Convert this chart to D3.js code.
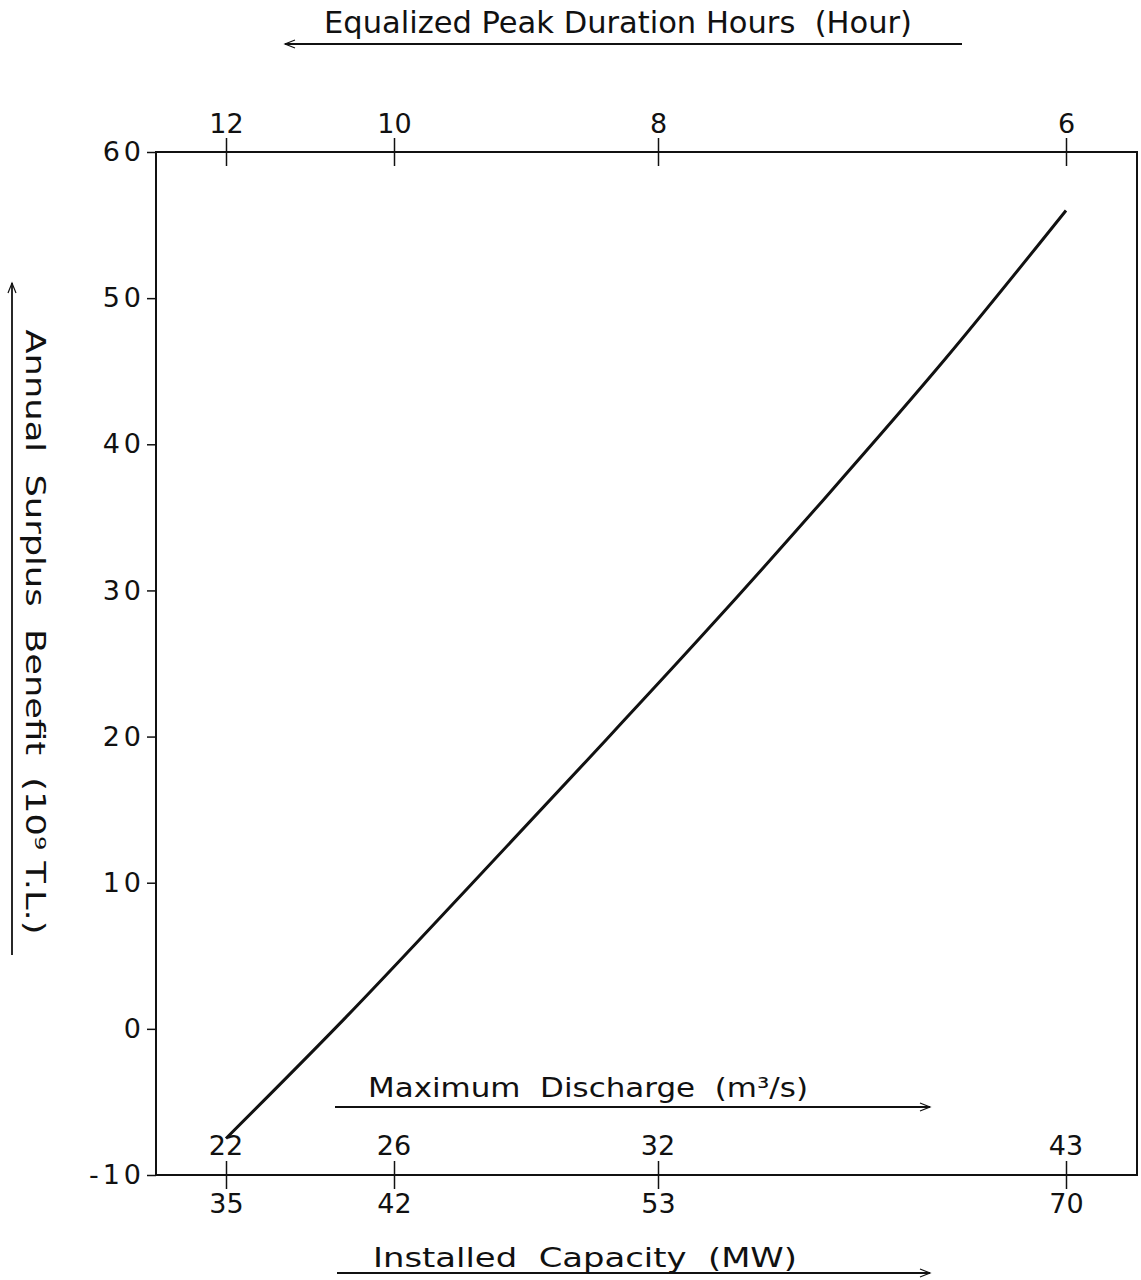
<!DOCTYPE html>
<html>
<head>
<meta charset="utf-8">
<script src="https://cdn.jsdelivr.net/npm/d3@7"></script>
<style>
  body { margin: 0; background: #fff; }
  svg { display: block; }
  text { font-family: "DejaVu Sans", sans-serif; fill: #111; }
</style>
</head>
<body>
<svg id="chart" width="1141" height="1280"></svg>
<script>
// curve: installed capacity (MW) vs annual surplus benefit (10^9 T.L.)
const capacityMW = [35, 40, 45, 50, 55, 60, 65, 70];
const benefit = [-7.5, 0.8, 9.5, 18.3, 27.2, 36.4, 45.9, 56.0];

// labelled positions shared by the three horizontal scales
const capacityTicks = [35, 42, 53, 70];
const hoursLabels = [12, 10, 8, 6];
const dischargeLabels = [22, 26, 32, 43];
const benefitTicks = [-10, 0, 10, 20, 30, 40, 50, 60];

const svg = d3.select('#chart');
const box = { left: 156, right: 1137, top: 152, bottom: 1175 };

const x = d3.scaleLinear().domain([35, 70]).range([226, 1066]);
const y = d3.scaleLinear().domain([-10, 60]).range([box.bottom, box.top]);

// frame
svg.append('rect')
  .attr('x', box.left)
  .attr('y', box.top)
  .attr('width', box.right - box.left)
  .attr('height', box.bottom - box.top)
  .attr('fill', 'none')
  .attr('stroke', '#111')
  .attr('stroke-width', 2);

// left axis
const yAxis = svg.append('g')
  .attr('transform', `translate(${box.left},0)`)
  .call(d3.axisLeft(y).tickValues(benefitTicks).tickSize(9).tickSizeOuter(0).tickPadding(2));
yAxis.select('.domain').remove();
yAxis.selectAll('line').attr('stroke', '#111').attr('stroke-width', 1.5);
yAxis.selectAll('text')
  .attr('font-size', 27)
  .attr('letter-spacing', 4)
  .attr('fill', '#111')
  .text((d) => (d < 0 ? '-' + Math.abs(d) : d));

// top axis: equalized peak duration hours
const topAxis = svg.append('g')
  .attr('transform', `translate(0,${box.top})`)
  .call(d3.axisTop(x).tickValues(capacityTicks).tickSizeOuter(0).tickSize(14).tickPadding(5)
    .tickFormat((d, i) => hoursLabels[i]));
topAxis.select('.domain').remove();
topAxis.selectAll('line').attr('y1', 14).attr('y2', -14).attr('stroke', '#111').attr('stroke-width', 1.5);
topAxis.selectAll('text').attr('font-size', 27).attr('fill', '#111');

// bottom axis: installed capacity
const bottomAxis = svg.append('g')
  .attr('transform', `translate(0,${box.bottom})`)
  .call(d3.axisBottom(x).tickValues(capacityTicks).tickSizeOuter(0).tickSize(14).tickPadding(5));
bottomAxis.select('.domain').remove();
bottomAxis.selectAll('line').attr('y1', -14).attr('y2', 14).attr('stroke', '#111').attr('stroke-width', 1.5);
bottomAxis.selectAll('text').attr('font-size', 27).attr('fill', '#111');

// discharge labels sit above the capacity ticks
svg.append('g')
  .selectAll('text')
  .data(capacityTicks)
  .join('text')
  .attr('x', (d) => x(d))
  .attr('y', box.bottom - 20)
  .attr('text-anchor', 'middle')
  .attr('font-size', 27)
  .text((d, i) => dischargeLabels[i]);

// benefit curve
const line = d3.line()
  .x((d, i) => x(capacityMW[i]))
  .y((d) => y(d))
  .curve(d3.curveMonotoneX);

svg.append('path')
  .datum(benefit)
  .attr('d', line)
  .attr('fill', 'none')
  .attr('stroke', '#111')
  .attr('stroke-width', 3);

// titles with arrows
svg.append('defs').append('marker')
  .attr('id', 'arrow')
  .attr('viewBox', '0 0 10 10')
  .attr('refX', 10)
  .attr('refY', 5)
  .attr('markerWidth', 18)
  .attr('markerHeight', 10)
  .attr('markerUnits', 'userSpaceOnUse')
  .attr('orient', 'auto')
  .append('path')
  .attr('d', 'M0,1 L10,5 L0,9')
  .attr('fill', 'none')
  .attr('stroke', '#111')
  .attr('stroke-width', 1.2);

function arrow(x1, y1, x2, y2) {
  svg.append('line')
    .attr('x1', x1).attr('y1', y1)
    .attr('x2', x2).attr('y2', y2)
    .attr('stroke', '#111')
    .attr('stroke-width', 1.8)
    .attr('marker-end', 'url(#arrow)');
}

function title(txt, cx, cy, len, size, rotate) {
  svg.append('text')
    .attr('transform', `translate(${cx},${cy})${rotate ? ' rotate(90)' : ''}`)
    .attr('text-anchor', 'middle')
    .attr('font-size', size)
    .attr('textLength', len)
    .attr('lengthAdjust', 'spacingAndGlyphs')
    .attr('xml:space', 'preserve')
    .text(txt);
}

title('Equalized Peak Duration Hours  (Hour)', 618, 33, 588, 30, false);
arrow(962, 44, 285, 44);

title('Maximum  Discharge  (m³/s)', 588, 1097, 440, 26, false);
arrow(335, 1107, 930, 1107);

title('Installed  Capacity  (MW)', 585, 1267, 424, 26, false);
arrow(337, 1273, 930, 1273);

title('Annual  Surplus  Benefit  (10⁹ T.L.)', 26, 632, 605, 26, true);
arrow(12, 955, 12, 283);
</script>
</body>
</html>
